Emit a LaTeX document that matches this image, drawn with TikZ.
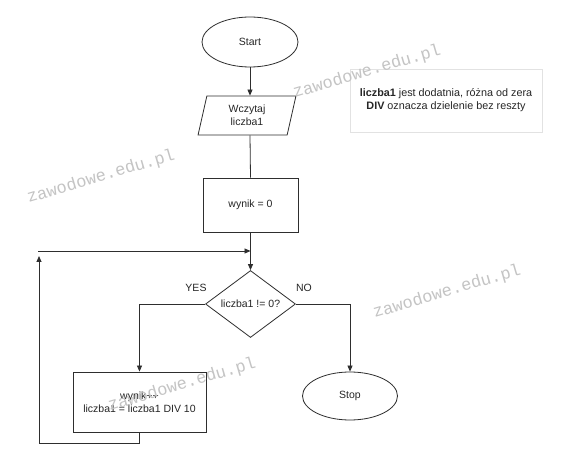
\documentclass[tikz,border=0pt]{standalone}
\usepackage{fontspec}
\setmainfont{Liberation Sans}
\newfontfamily\wmfont{Liberation Mono}
\usetikzlibrary{shapes.geometric,arrows.meta}
\definecolor{linec}{HTML}{2E2E2E}
\definecolor{textc}{HTML}{262626}
\definecolor{wmc}{HTML}{C4C4C4}
\definecolor{notec}{HTML}{E2E2E2}
\tikzset{
  base/.style={draw=linec, line width=0.8pt, text=textc, font=\fontsize{10.5}{13}\selectfont, align=center, inner sep=0pt},
  term/.style={base, ellipse},
  io/.style={base, trapezium, trapezium stretches=true, trapezium left angle=79, trapezium right angle=101},
  proc/.style={base, rectangle},
  decis/.style={base, diamond},
  flow/.style={draw=linec, line width=0.8pt, -{Triangle[length=6pt,width=5pt]}},
  plain/.style={draw=linec, line width=0.8pt},
  lbl/.style={text=textc, font=\fontsize{10.5}{13}\selectfont, inner sep=0pt},
  wm/.style={text=wmc, font=\wmfont\fontsize{17}{17}\selectfont, rotate=16.5, inner sep=0pt},
  note/.style={draw=notec, line width=0.6pt, text=textc, font=\fontsize{10.8}{13}\selectfont, align=center, inner sep=0pt}
}
\begin{document}
\begin{tikzpicture}[x=1pt,y=-1pt]
\useasboundingbox[fill=white] (0,0) rectangle (568,454);
\node[term, minimum width=96pt, minimum height=50pt] (start) at (250,42) {Start};
\node[io, minimum width=98pt, minimum height=39pt] (read) at (247,115.5) {Wczytaj\\liczba1};
\node[proc, minimum width=95pt, minimum height=54pt] (init) at (250.5,205) {wynik = 0};
\node[decis, minimum width=90pt, minimum height=62pt] (dec) at (250.5,304) {liczba1 != 0?};
\node[proc, minimum width=133pt, minimum height=60pt] (body) at (139.5,402) {wynik++\\liczba1 = liczba1 DIV 10};
\node[term, minimum width=95pt, minimum height=48pt] (stop) at (350,396) {Stop};
\node[note, minimum width=192pt, minimum height=63pt] (info) at (446,100.5) {\textbf{liczba1} jest dodatnia, różna od zera\\\textbf{DIV} oznacza dzielenie bez reszty};
\node[lbl] (yes) at (196,288) {YES};
\node[lbl] (no) at (304,288) {NO};
\coordinate (join) at (250.5,251);
\coordinate (loopstart) at (38,251);
\coordinate (loopbr) at (139.5,443);
\coordinate (loopbl) at (39,443);
\coordinate (looptop) at (39,256);
\draw[flow] (start.south) -- (start.south |- read.north);
\draw[plain] (start.south |- read.south) -- (init.north);
\draw[flow] (init.south) -- (dec.north);
\draw[flow] (loopstart) -- (join);
\draw[flow] (dec.west) -| (body.north);
\draw[flow] (dec.east) -| (stop.north);
\draw[flow] (body.south) -- (loopbr) -- (loopbl) -- (looptop);
\node[wm] (wm1) at (367,72) {zawodowe.edu.pl};
\node[wm] (wm2) at (101,177) {zawodowe.edu.pl};
\node[wm] (wm3) at (447,292) {zawodowe.edu.pl};
\node[wm] (wm4) at (182,385) {zawodowe.edu.pl};
\end{tikzpicture}
\end{document}
